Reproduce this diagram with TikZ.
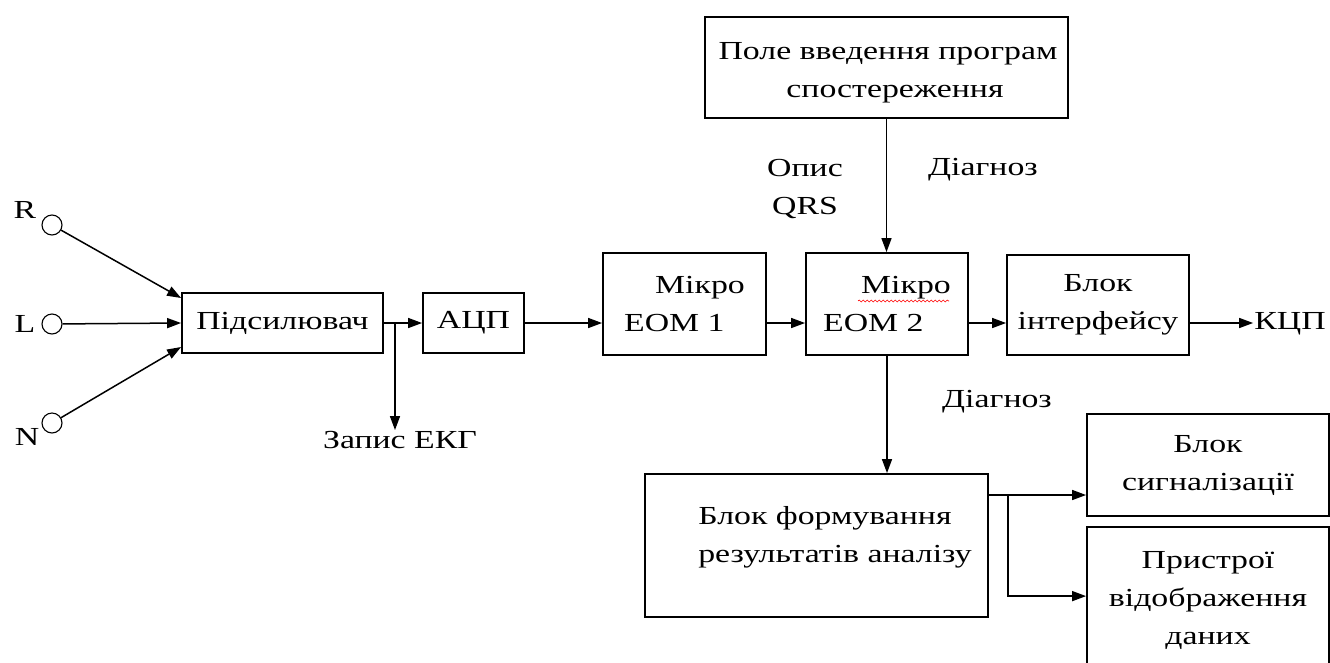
\documentclass[tikz,border=0pt]{standalone}
\usepackage{fontspec}
\setmainfont[FakeStretch=1.3]{Liberation Serif}
\usepackage{tikz}
\usetikzlibrary{arrows.meta,calc,decorations.pathmorphing}
\tikzstyle{blk} = [draw, line width=1.8pt, inner sep=2pt, align=center]
\tikzstyle{arr} = [line width=1.5pt, -{Triangle[length=14pt,width=10pt]}]
\tikzstyle{pin} = [draw, circle, line width=1.1pt, minimum size=20pt, inner sep=0pt]
\tikzstyle{txt} = [inner sep=1pt, align=center]

\begin{document}
\begin{tikzpicture}[x=1pt,y=-1pt]
  \fontsize{26}{38}\selectfont
  \clip (0,0) rectangle (1330,662);

  % inputs
  \draw (52,225) node[pin] (rp) {};
  \draw (52,324) node[pin] (lp) {};
  \draw (52,423) node[pin] (np) {};
  \draw (25,210) node[txt] (rl) {R};
  \draw (25,324) node[txt] (ll) {L};
  \draw (27,437) node[txt] (nl) {N};

  % main chain
  \draw (282.5,323) node[blk, minimum width=201pt, minimum height=60pt] (amp) {Підсилювач};
  \draw (473.5,323) node[blk, minimum width=101pt, minimum height=60pt] (adc) {АЦП};
  \draw (684.5,304) node[blk, minimum width=163pt, minimum height=102pt, align=left] (mc1) {\hspace*{31pt}Мікро\\ЕОМ 1};
  \draw (887,304) node[blk, minimum width=162pt, minimum height=102pt, align=left] (mc2) {\hspace*{38pt}Мікро\\ЕОМ 2};
  \draw (1098,305) node[blk, minimum width=182pt, minimum height=100pt] (intf) {Блок\\інтерфейсу};
  \draw (1290,324) node[txt] (kcp) {КЦП};
  \draw (886.5,67.5) node[blk, minimum width=363pt, minimum height=101pt] (field) {};
  \draw (888,73) node[txt] (fieldtxt) {Поле введення програм\\\hspace*{14pt}спостереження};

  \draw (400,440) node[txt] (rec) {Запис ЕКГ};
  \draw (805,189) node[txt] (qrs) {Опис\\QRS};
  \draw (983,170) node[txt] (dg1) {Діагноз};
  \draw (997,402) node[txt] (dg2) {Діагноз};

  % outputs
  \draw (816.5,545.5) node[blk, minimum width=343pt, minimum height=143pt] (form) {};
  \draw (835,537) node[txt, align=left] (formtxt) {Блок формування\\результатів аналізу};
  \draw (1208,465) node[blk, minimum width=242pt, minimum height=102pt] (sig) {Блок\\сигналізації};
  \draw (1208,600) node[blk, minimum width=242pt, minimum height=146pt] (disp) {Пристрої\\відображення\\даних};

  % connectors
  \draw[arr] (rp) -- ([yshift=25pt]amp.west);
  \draw[arr] (lp) -- (amp.west);
  \draw[arr] (np) -- ([yshift=-24pt]amp.west);
  \draw[arr] (amp) -- (adc);
  \coordinate (tap) at (395,323);
  \draw[arr] (tap) -- (tap |- rec.north);
  \draw[arr] (adc) -- (mc1.west |- adc);
  \draw[arr] (mc1.east |- adc) -- (mc2.west |- adc);
  \draw[arr] (mc2.east |- adc) -- (intf.west |- adc);
  \draw[arr] (intf.east |- adc) -- (kcp.west |- adc);
  \draw[arr] (field.south) -- (field.south |- mc2.north);
  \draw[arr] (mc2.south) -- (mc2.south |- form.north);
  \coordinate (fo) at (988,495);
  \coordinate (fb) at (1008,495);
  \draw[arr] (fo) -- (fo -| sig.west);
  \draw[arr] (fb) |- ($(disp.north west)+(0,70)$);

  % spell-check mark
  \draw[red, line width=0.6pt, decorate, decoration={snake, amplitude=1pt, segment length=4pt}] (858,301) -- (949,301);
\end{tikzpicture}
\end{document}
